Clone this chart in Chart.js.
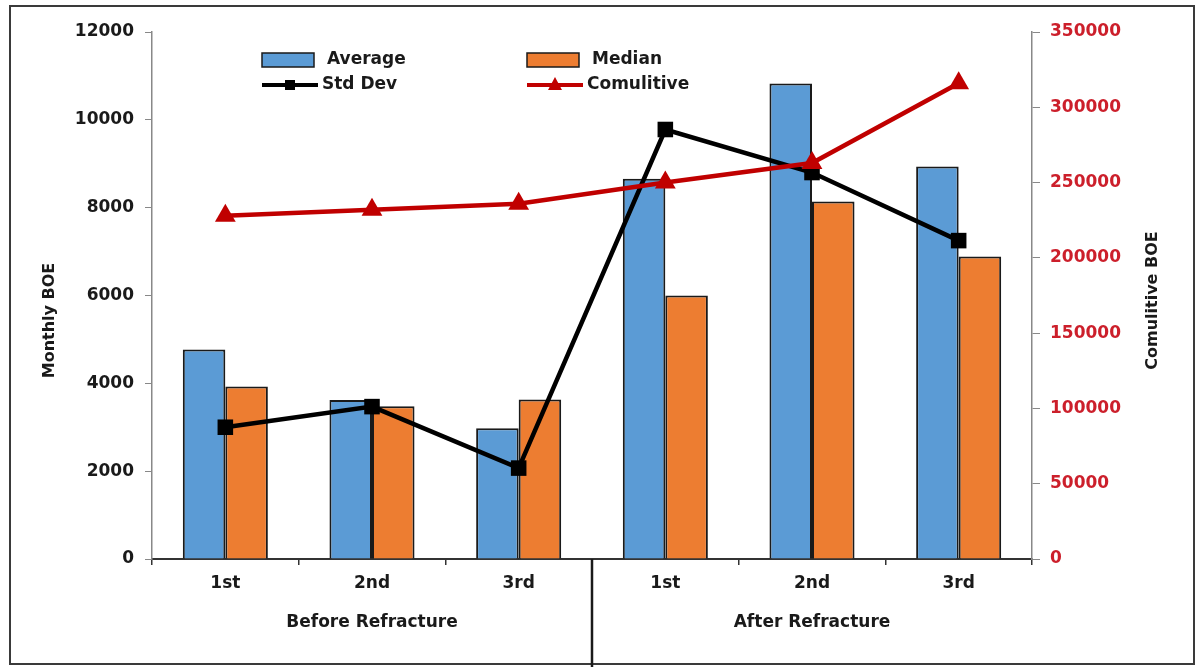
<!DOCTYPE html>
<html><head><meta charset="utf-8">
<script src="https://cdn.jsdelivr.net/npm/chart.js@4.4.0/dist/chart.umd.min.js"></script>
<style>html,body{margin:0;padding:0;background:#fff;}canvas{display:block;}</style>
</head><body>
<canvas id="c" width="1201" height="667"></canvas>
<script>
const categories = ['1st','2nd','3rd','1st','2nd','3rd'];
const groupLabels = ['Before Refracture','After Refracture'];
const groupSizes = [3,3];
const average = [4770,3620,2980,8660,10830,8940];
const median = [3930,3480,3630,6000,8140,6890];
const stdDev = [3000,3470,2070,9780,8800,7250];
const cumulative = [228000,232000,236000,250000,263000,316000];
const leftAxis = {min:0, max:12000, step:2000, title:'Monthly BOE'};
const rightAxis = {min:0, max:350000, step:50000, title:'Comulitive BOE'};

const FONT = 'DejaVu Sans';
Chart.defaults.font.family = FONT;
Chart.defaults.font.weight = 'bold';
Chart.defaults.font.size = 17;
Chart.defaults.color = '#1a1a1a';

const BLUE = '#5B9BD5', ORANGE = '#ED7D31', RED = '#C00000', RED_TXT = '#CC1F2B';

const extras = {
  id: 'extras',
  beforeDraw(chart) {
    const c = chart.ctx;
    c.save();
    c.fillStyle = '#fff';
    c.fillRect(0,0,chart.width,chart.height);
    c.restore();
  },
  afterDraw(chart) {
    const c = chart.ctx, a = chart.chartArea, x = chart.scales.x;
    c.save();
    // outer frame
    c.strokeStyle = '#3a3a3a'; c.lineWidth = 2;
    c.strokeRect(10, 6, chart.width - 17, chart.height - 9);
    // group labels & divider
    c.fillStyle = '#1a1a1a';
    c.font = 'bold 17px "' + FONT + '"';
    c.textAlign = 'center'; c.textBaseline = 'middle';
    let start = 0;
    groupLabels.forEach((g, i) => {
      const end = start + groupSizes[i] - 1;
      const cx = (x.getPixelForValue(start) + x.getPixelForValue(end)) / 2;
      c.fillText(g, cx, a.bottom + 64);
      if (i < groupLabels.length - 1) {
        const dx = Math.round((x.getPixelForValue(end) + x.getPixelForValue(end + 1)) / 2);
        c.strokeStyle = '#1a1a1a'; c.lineWidth = 2.5;
        c.beginPath(); c.moveTo(dx, a.bottom); c.lineTo(dx, chart.height); c.stroke();
      }
      start += groupSizes[i];
    });
    // axis titles
    c.font = 'bold 16px "' + FONT + '"';
    c.save(); c.translate(50, (a.top + a.bottom) / 2 + 25); c.rotate(-Math.PI/2);
    c.fillText(leftAxis.title, 0, 0); c.restore();
    c.save(); c.translate(1153, (a.top + a.bottom) / 2 + 5); c.rotate(-Math.PI/2);
    c.fillText(rightAxis.title, 0, 0); c.restore();
    // legend
    const ds = chart.data.datasets;
    const items = [
      {d: ds[0], x: 262, y: 60},
      {d: ds[1], x: 527, y: 60},
      {d: ds[2], x: 262, y: 85},
      {d: ds[3], x: 527, y: 85}
    ];
    c.font = 'bold 17px "' + FONT + '"';
    c.textAlign = 'left';
    items.forEach(it => {
      const d = it.d;
      if (d.type === 'bar') {
        c.fillStyle = d.backgroundColor; c.strokeStyle = '#1a1a1a'; c.lineWidth = 1.5;
        c.fillRect(it.x, it.y - 7, 52, 14); c.strokeRect(it.x, it.y - 7, 52, 14);
        c.fillStyle = '#1a1a1a'; c.fillText(d.label, it.x + 65, it.y);
      } else {
        c.strokeStyle = d.borderColor; c.lineWidth = 4;
        c.beginPath(); c.moveTo(it.x, it.y); c.lineTo(it.x + 56, it.y); c.stroke();
        c.fillStyle = d.borderColor;
        const mx = it.x + 28;
        if (d.pointStyle === 'rect') { c.fillRect(mx - 5, it.y - 5, 10, 10); }
        else { c.beginPath(); c.moveTo(mx, it.y - 8); c.lineTo(mx + 7, it.y + 5); c.lineTo(mx - 7, it.y + 5); c.closePath(); c.fill(); }
        c.fillStyle = '#1a1a1a'; c.fillText(d.label, it.x + 60, it.y);
      }
    });
    c.restore();
  }
};

new Chart(document.getElementById('c'), {
  data: {
    labels: categories,
    datasets: [
      {type:'bar', label:'Average', data: average, backgroundColor: BLUE, borderColor:'#1a1a1a', borderWidth:2, yAxisID:'y', order:3, categoryPercentage:0.58, barPercentage:1},
      {type:'bar', label:'Median', data: median, backgroundColor: ORANGE, borderColor:'#1a1a1a', borderWidth:2, yAxisID:'y', order:3, categoryPercentage:0.58, barPercentage:1},
      {type:'line', label:'Std Dev', data: stdDev, borderColor:'#000', backgroundColor:'#000', borderWidth:4.5, pointStyle:'rect', pointRadius:11, pointBorderWidth:0, yAxisID:'y', order:2, tension:0},
      {type:'line', label:'Comulitive', data: cumulative, borderColor: RED, backgroundColor: RED, borderWidth:4.5, pointStyle:'triangle', pointRadius:12, pointBorderWidth:0, yAxisID:'y1', order:1, tension:0}
    ]
  },
  options: {
    responsive:false, animation:false,
    layout:{padding:{top:32, left:0, right:0, bottom:0}},
    plugins:{legend:{display:false}, tooltip:{enabled:false}},
    scales:{
      x:{
        offset:true,
        grid:{offset:true, drawOnChartArea:false, tickLength:6, color:'#333', lineWidth:1.5},
        border:{color:'#333', width:2},
        ticks:{padding:8, color:'#1a1a1a', maxRotation:0, autoSkip:false},
        afterFit: s => { s.height = 108; }
      },
      y:{
        position:'left', min:leftAxis.min, max:leftAxis.max,
        grid:{drawOnChartArea:false, tickLength:7, color:'#888'},
        border:{color:'#888', width:1.5},
        ticks:{stepSize:leftAxis.step, padding:11, color:'#1a1a1a', callback: v => String(v)},
        afterFit: s => { s.width = 152; }
      },
      y1:{
        position:'right', min:rightAxis.min, max:rightAxis.max,
        grid:{drawOnChartArea:false, tickLength:8, color:'#888'},
        border:{color:'#888', width:1.5},
        ticks:{stepSize:rightAxis.step, padding:10, color:RED_TXT, callback: v => String(v)},
        afterFit: s => { s.width = 169; }
      }
    }
  },
  plugins:[extras]
});
</script>
</body></html>
